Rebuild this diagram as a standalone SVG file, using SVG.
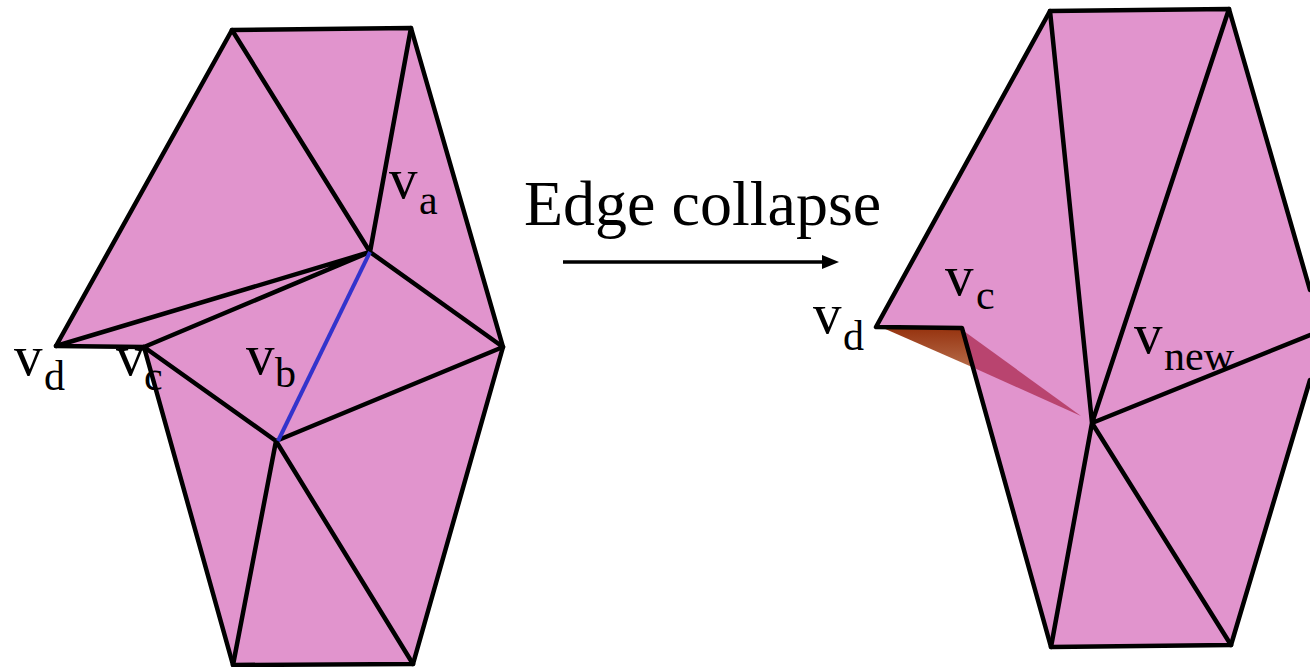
<svg xmlns="http://www.w3.org/2000/svg" width="1310" height="667" viewBox="0 0 1310 667">
<defs>
<style>
.f{fill:#e194cd;stroke:none}
.e{fill:none;stroke:#000;stroke-width:4.5;stroke-linejoin:round;stroke-linecap:round}
text{font-family:"Liberation Serif","Times New Roman",serif;fill:#000}
.v{font-size:57px}.s{font-size:42px}
</style>
<linearGradient id="g1" x1="0" y1="0" x2="0" y2="1"><stop offset="0" stop-color="#96330f"/><stop offset="1" stop-color="#b56a48"/></linearGradient>
</defs>
<g id="mesh-left">
<path class="f" d="M232 30L411 28L503 347L413 664L233 665L144 347L56 346Z"/>
<path class="e" d="M56 346L232 30L411 28L503 347L413 664L233 665L144 347Z"/>
</g>
<g id="mesh-right">
<path class="f" d="M1050 11L1229 9L1310 290V380L1231 645L1051 647L962 328L876 327Z"/>
<path d="M883 328L961 328L972 367Z" fill="url(#g1)"/>
<path d="M961 329L1081 416L972 367Z" fill="#b9446f"/>
<path class="e" d="M1310 290L1229 9L1050 11L876 327L962 328L1051 647L1231 645L1310 380"/>
</g>
<g id="connectors">
<path class="e" d="M232 30L370 252L411 28M56 346L370 252L144 347M370 252L503 347L276 441L144 347M276 441L233 665M276 441L413 664"/>
<path d="M370 252L278 441" fill="none" stroke="#3333cc" stroke-width="4"/>
<path class="e" d="M1050 11L1092 423L1229 9M1092 423L1310 335M1092 423L1051 647M1092 423L1231 645"/>
<path d="M563 262H827" stroke="#000" stroke-width="3.5" fill="none"/>
<path d="M839 262L822 255V269Z" fill="#000"/>
</g>
<g id="labels">
<text class="v" x="389" y="198">v</text><text class="s" x="419" y="214">a</text>
<text class="v" x="246" y="374">v</text><text class="s" x="275" y="387">b</text>
<text class="v" x="14" y="375">v</text><text class="s" x="44" y="390">d</text>
<text class="v" x="116" y="375">v</text><text class="s" x="144" y="390">c</text>
<text class="v" x="945" y="295">v</text><text class="s" x="976" y="309">c</text>
<text class="v" x="813" y="333">v</text><text class="s" x="843" y="350">d</text>
<text class="v" x="1134" y="353">v</text><text class="s" x="1164" y="370">new</text>
<text x="524" y="225" font-size="64">Edge collapse</text>
</g>
</svg>
